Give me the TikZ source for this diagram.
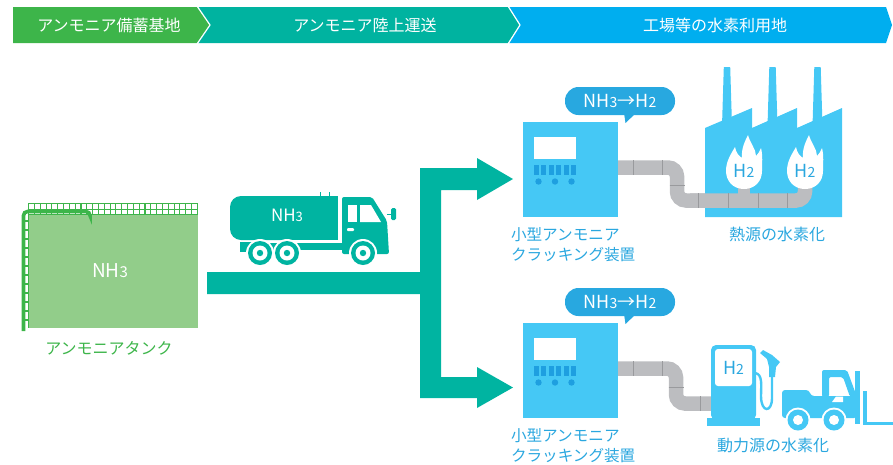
\documentclass[tikz,border=0pt]{standalone}
\usepackage{fontspec}
\setmainfont{Noto Sans CJK JP}
\usetikzlibrary{calc}

\definecolor{hgreen}{HTML}{3DB54A}
\definecolor{hteal}{HTML}{00B3A0}
\definecolor{hblue}{HTML}{00AEEF}
\definecolor{flow}{HTML}{00B4A1}
\definecolor{tankfill}{HTML}{92CD8A}
\definecolor{rail}{HTML}{3DB54A}
\definecolor{dev}{HTML}{45C8F5}
\definecolor{bub}{HTML}{28A8E0}
\definecolor{devtext}{HTML}{2AA7DF}
\definecolor{devdark}{HTML}{1E9FE0}
\definecolor{pipe}{HTML}{BCBDC0}
\definecolor{joint}{HTML}{999A9D}

% smaller digit for chemical formulas
\newcommand\fsz[2]{{\fontsize{#1}{#1}\selectfont #2}}

\begin{document}
\begin{tikzpicture}[x=1pt,y=-1pt,
  every node/.style={inner sep=0pt, outer sep=0pt},
  headtxt/.style={text=white, font=\fontsize{16}{16}\selectfont},
  greenlbl/.style={text=rail, font=\fontsize{16}{16}\selectfont},
  bluelbl/.style={text=devtext, font=\fontsize{15.6}{20}\selectfont, align=left},
  pipeline/.style={draw=pipe, line width=14.5pt},
  jointline/.style={draw=joint, line width=1pt},
  bubble/.style={fill=bub, rounded corners=13.5pt, minimum width=110pt, minimum height=28pt, text=white, font=\fontsize{18}{18}\selectfont},
  crackbox/.style={fill=dev, minimum width=95pt, minimum height=95pt},
]
\useasboundingbox (0,0) rectangle (893,464);

% ---------- header band ----------
\fill[hgreen] (13,7) -- (197,7) -- (210,25) -- (197,43) -- (13,43) -- cycle;
\fill[hteal] (197,7) -- (508,7) -- (520,25) -- (508,43) -- (197,43) -- (210,25) -- cycle;
\fill[hblue] (508,7) -- (886,7) -- (892,25) -- (886,43) -- (508,43) -- (520,25) -- cycle;
\draw[white, line width=1.2pt] (197,6) -- (210,25) -- (197,44);
\draw[white, line width=1.2pt] (508,6) -- (520,25) -- (508,44);
\node[headtxt] (h1) at (109,25) {アンモニア備蓄基地};
\node[headtxt] (h2) at (365,25) {アンモニア陸上運送};
\node[headtxt] (h3) at (715,25) {工場等の水素利用地};

% ---------- ammonia tank ----------
\fill[tankfill] (28,215) rectangle (198,328);
\draw[rail, line width=1.6pt] (28,203.5) -- (198,203.5);
\draw[rail, line width=1pt] (28,209) -- (198,209);
\draw[rail, line width=1.2pt] (28,214.5) -- (198,214.5);
\foreach \i in {0,...,29} \draw[rail, line width=1.1pt] ({28.6+\i*5.82},203) -- ({28.6+\i*5.82},215);
\draw[rail, line width=3.6pt, rounded corners=4pt] (23.5,331) -- (23.5,211.5) -- (90,211.5) -- (90,215);
\draw[rail, line width=1pt] (28,215) -- (28,328);
\foreach \y in {221,230,...,325} \draw[rail, line width=1.2pt] (23,\y) -- (28,\y);
\node[text=white, font=\fontsize{19}{19}\selectfont] (tanklbl) at (110,271) {NH\fsz{15}{3}};
\node[greenlbl] (tankname) at (109,348) {アンモニアタンク};

% ---------- flow arrow ----------
\fill[flow] (207,272) -- (420,272) -- (420,168) -- (477,168) -- (477,158) -- (513,179)
  -- (477,200) -- (477,190) -- (441,190) -- (441,377) -- (477,377) -- (477,367)
  -- (513,387.5) -- (477,408) -- (477,398) -- (420,398) -- (420,294) -- (207,294) -- cycle;

% ---------- tank truck ----------
\fill[flow, rounded corners=11pt] (230,196) rectangle (300,240);
\fill[flow] (280,196) rectangle (338,240);
\draw[flow, line width=1pt] (320,196) -- (320,192) (329,196) -- (329,192);
\node[text=white, font=\fontsize{17}{17}\selectfont] (trucklbl) at (287,215) {NH\fsz{13}{3}};
\fill[flow] (240,242) rectangle (252,252);
\fill[flow] (250,243) rectangle (345,250);
% cab
\fill[flow, rounded corners=2pt] (342,254) -- (342,197) -- (372,197) -- (387,221) -- (389,254) -- cycle;
\fill[white] (348,205) rectangle (357,222);
\fill[white] (360,205) -- (371,205) -- (381,222) -- (360,222) -- cycle;
\fill[white, rounded corners=1pt] (347,228) rectangle (354,231);
\fill[flow, rounded corners=1.5pt] (391,208) rectangle (396,220);
\draw[flow, line width=1pt] (387,214) -- (392,214);
% wheels
\foreach \cx/\nm in {260/w1,287/w2,363/w3} {
  \fill[white] (\cx,253) circle (14);
  \fill[flow] (\cx,253) circle (12);
  \fill[white] (\cx,253) circle (7.5);
  \coordinate (\nm) at (\cx,253);
  \fill[flow] (\nm) circle (3.2);
}

% ---------- pipes ----------
\node[crackbox] (cra) at (570.5,169.5) {};
\node[crackbox] (crb) at (570.5,370.5) {};
\coordinate (fl1) at (744,171);
\coordinate (fl2) at (805,171);
\coordinate (disp) at (712,403.5);

\draw[pipeline, rounded corners=9pt] (cra.east) ++(0,-2) -- (677,167.5) -- (677,200.5) -- (805,200.5) -- (fl2);
\draw[pipeline, line width=12pt] (744,200.5) -- (fl1);
\draw[pipeline, rounded corners=9pt] (crb.east) ++(0,-2) -- (676,368.5) -- (676,403.5) -- (disp);

\foreach \x in {633,662} {
  \draw[jointline] (\x,160) -- (\x,175);
  \draw[jointline] (\x,361) -- (\x,376);
}
\draw[jointline] (669.5,185) -- (684.5,185);
\draw[jointline] (668.5,387) -- (683.5,387);
\foreach \x in {698,728,758,787} \draw[jointline] (\x,193) -- (\x,208);
\draw[jointline] (700,396) -- (700,411);

% ---------- cracking units ----------
\foreach \dy/\bn/\ln in {0/ba/la,201/bb/lb} {
  \begin{scope}[shift={(0,\dy)}]
    \fill[dev] (523,122) rectangle (618,217);
    \fill[white] (534,137) rectangle (576,159);
    \foreach \i in {0,...,5} \fill[devdark] ({534+\i*7.4},165) rectangle ({539+\i*7.4},175);
    \foreach \x in {538.5,555,571.5} \fill[devdark] (\x,181.5) circle (3.2);
    \fill[bub] (624,113) -- (636,113) -- (625.5,123) -- cycle;
    \node[bubble] (\bn) at (620,101) {NH\fsz{14}{3}→H\fsz{14}{2}};
    \node[bluelbl, anchor=west] (\ln) at (511,245) {小型アンモニア\\クラッキング装置};
  \end{scope}
}

% ---------- factory ----------
\fill[dev] (705,217) -- (705,128) -- (752,108) -- (752,128) -- (797,108) -- (797,128)
  -- (842,108) -- (842,217) -- cycle;
\foreach \cx in {722,767.5,812.5}
  \fill[dev] (\cx,126) -- ({\cx+1.8},67) -- ({\cx+8.2},67) -- ({\cx+10},126) -- cycle;
% redraw the pipes that run in front of the factory
\draw[pipeline, rounded corners=9pt] (690,200.5) -- (805,200.5) -- (805,185);
\draw[pipeline, line width=12pt] (744,200.5) -- (744,185);
\foreach \x in {698,728,758,787} \draw[jointline] (\x,193) -- (\x,208);
% flames
\foreach \f/\nm in {fl1/fa,fl2/fb} {
  \begin{scope}[shift={(\f)}]
    \fill[white] (0,18) .. controls (-11,18) and (-18,10) .. (-18,0)
      .. controls (-18,-10) and (-13,-17) .. (-9,-24)
      .. controls (-8,-18) and (-5,-15) .. (-2,-13)
      .. controls (-3,-22) and (1,-30) .. (4,-36)
      .. controls (6,-28) and (12,-22) .. (12,-15)
      .. controls (14,-17) and (16,-20) .. (17,-23)
      .. controls (19,-15) and (18,-8) .. (18,0)
      .. controls (18,10) and (11,18) .. (0,18) -- cycle;
    \node[text=devtext, font=\fontsize{18}{18}\selectfont] (\nm) at (0,0) {H\fsz{14}{2}};
  \end{scope}
}
\node[greenlbl, text=devtext] (heat) at (777,234) {熱源の水素化};

% ---------- hydrogen dispenser ----------
\fill[dev, rounded corners=5pt] (711,420) -- (711,345) -- (756,345) -- (756,420) -- cycle;
\fill[dev] (707,418) rectangle (760,426);
\fill[white, rounded corners=3pt] (715,386) -- (715,349) -- (752,349) -- (752,386) -- cycle;
\node[text=devtext, font=\fontsize{18}{18}\selectfont] (h2disp) at (733.5,368) {H\fsz{14}{2}};
% hose and nozzle
\draw[dev, line width=2.4pt] (755,373) .. controls (763,374) and (761,386) .. (761,396)
  .. controls (761,413) and (772,413) .. (772,398) -- (772,375);
\fill[dev] (769,377) -- (775,377) -- (776,367) -- (780,362) -- (772,355) -- (763,350)
  -- (760,353) -- (767,359) -- (769,367) -- cycle;

% ---------- forklift ----------
\fill[dev, rounded corners=3pt] (782,418) -- (782,390) -- (809,390) -- (811,396) -- (857,396) -- (857,418) -- cycle;
\fill[dev, rounded corners=2pt] (822,397) -- (822,370) -- (847,370) -- (857,397) -- (850,397) -- (843,377) -- (829,377) -- (829,397) -- cycle;
\fill[white] (832,402) -- (836,396.5) -- (843,396.5) -- (843,402) -- cycle;
\fill[dev] (855,371) rectangle (859.5,424);
\fill[dev] (862.5,391) rectangle (866.5,425);
\fill[dev] (862.5,421.5) rectangle (893,425);
\foreach \cx/\nm in {798/fw1,834/fw2} {
  \coordinate (\nm) at (\cx,420);
  \fill[white] (\nm) circle (12.5);
  \fill[dev] (\nm) circle (10.5);
  \fill[white] (\nm) circle (5);
}
\node[greenlbl, text=devtext] (power) at (773,445) {動力源の水素化};

\end{tikzpicture}
\end{document}
